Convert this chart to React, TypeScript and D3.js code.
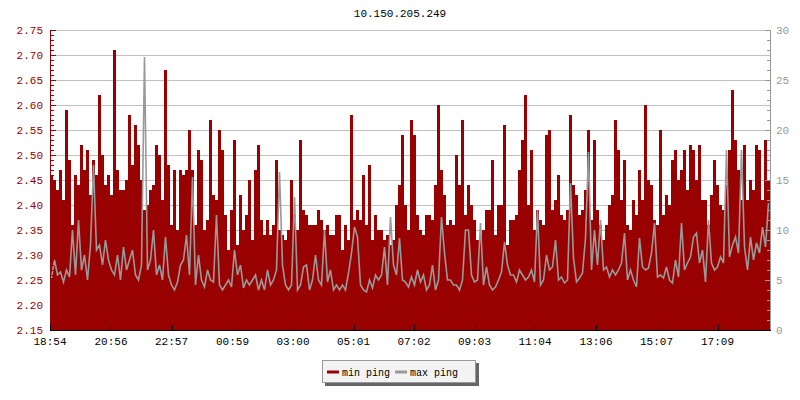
import * as d3 from "d3";

const W = 800;
const H = 400;
const M = { top: 30, right: 30, bottom: 70, left: 50 };

const TITLE = "10.150.205.249";
const START = "18:54";
const STEP_MIN = 6;
const X_LABELS = ["18:54", "20:56", "22:57", "00:59", "03:00", "05:01", "07:02", "09:03", "11:04", "13:06", "15:07", "17:09"];
const LEFT_DOMAIN: [number, number] = [2.15, 2.75];
const RIGHT_DOMAIN: [number, number] = [0, 30];
const SERIES = ["min ping", "max ping"];

// min ping, left axis, one value per 6 minutes
const minPing = [
  2.46, 2.45, 2.43, 2.47, 2.41, 2.59, 2.49, 2.36, 2.46, 2.44, 2.52, 2.47, 2.51, 2.42, 2.49, 2.46, 2.62, 2.5, 2.44, 2.46, 2.42, 2.71, 2.47, 2.43,
  2.43, 2.45, 2.58, 2.48, 2.56, 2.52, 2.45, 2.39, 2.4, 2.43, 2.44, 2.52, 2.5, 2.41, 2.67, 2.48, 2.36, 2.47, 2.35, 2.47, 2.46, 2.47, 2.55, 2.47,
  2.36, 2.51, 2.49, 2.35, 2.37, 2.57, 2.42, 2.41, 2.55, 2.51, 2.38, 2.31, 2.39, 2.53, 2.32, 2.42, 2.35, 2.38, 2.45, 2.33, 2.47, 2.52, 2.37, 2.34,
  2.37, 2.34, 2.36, 2.49, 2.35, 2.34, 2.33, 2.35, 2.45, 2.38, 2.35, 2.53, 2.39, 2.38, 2.36, 2.36, 2.36, 2.39, 2.37, 2.35, 2.36, 2.34, 2.34, 2.38,
  2.38, 2.31, 2.36, 2.33, 2.58, 2.37, 2.39, 2.37, 2.46, 2.36, 2.48, 2.33, 2.38, 2.35, 2.35, 2.33, 2.34, 2.32, 2.33, 2.4, 2.44, 2.54, 2.4, 2.35,
  2.57, 2.54, 2.38, 2.35, 2.34, 2.38, 2.38, 2.37, 2.44, 2.6, 2.47, 2.42, 2.36, 2.37, 2.36, 2.5, 2.44, 2.57, 2.38, 2.44, 2.4, 2.37, 2.33, 2.33,
  2.35, 2.39, 2.39, 2.49, 2.34, 2.4, 2.4, 2.56, 2.32, 2.37, 2.37, 2.38, 2.47, 2.53, 2.62, 2.4, 2.51, 2.35, 2.39, 2.37, 2.36, 2.54, 2.55, 2.39,
  2.41, 2.46, 2.38, 2.37, 2.39, 2.58, 2.44, 2.42, 2.38, 2.39, 2.43, 2.55, 2.37, 2.53, 2.39, 2.36, 2.33, 2.36, 2.4, 2.42, 2.57, 2.51, 2.41, 2.49,
  2.36, 2.35, 2.41, 2.38, 2.47, 2.41, 2.6, 2.45, 2.44, 2.37, 2.36, 2.55, 2.38, 2.42, 2.4, 2.49, 2.51, 2.45, 2.47, 2.51, 2.43, 2.52, 2.51, 2.45,
  2.52, 2.41, 2.41, 2.36, 2.42, 2.49, 2.44, 2.4, 2.39, 2.44, 2.51, 2.63, 2.53, 2.47, 2.41, 2.52, 2.41, 2.45, 2.43, 2.52, 2.51, 2.41, 2.53, 2.45,
];

// max ping, right axis
const maxPing = [
  5.2, 7, 5.5, 5.8, 4.8, 6, 5.3, 10, 5.5, 11, 6, 7.5, 5, 8.5, 16.5, 8, 8.5, 6.5, 9, 7, 6, 5.5, 7.5, 5,
  8.3, 6, 7, 8, 5.5, 5, 6.5, 27.3, 6, 7, 10, 5.5, 6.5, 5, 9.3, 5.5, 4.5, 4, 4.8, 6.5, 7, 9.5, 5.5, 15.3,
  4.5, 7.5, 5, 4.3, 6, 5, 4.8, 11.5, 4.5, 4, 4.5, 5, 4.3, 8, 5.5, 6.5, 4.2, 5, 4.5, 5, 5.5, 4, 5, 4,
  6, 4.5, 5, 6, 15.8, 6.5, 4.5, 4, 4.5, 13.3, 4, 4.5, 6.3, 6.5, 4, 5, 7.5, 5, 4.5, 10, 4.8, 6, 4, 4.5,
  4, 4.5, 4, 5.7, 7.7, 10.3, 9.3, 4.5, 4, 3.8, 5, 4.2, 5.5, 5, 5.5, 8.3, 4.5, 11.3, 6.5, 5.5, 9.2, 5, 4.8, 4.3,
  5.3, 4.5, 6, 4.8, 5.5, 4, 4.5, 6.5, 4, 5, 11.3, 7.7, 5, 5, 4.5, 4.5, 4, 5, 10, 10, 5.5, 4.8, 5, 10.7,
  4.5, 6.3, 4.5, 4, 4.3, 5, 5.8, 8.8, 6.5, 5.5, 5.5, 4.8, 6, 5.5, 5, 5.3, 6, 4.8, 12, 4.5, 5, 7.5, 6, 6.3,
  9, 5, 5.3, 4.7, 5, 14.7, 7.2, 4.8, 5.2, 5.7, 9.2, 17.8, 6, 10, 6.5, 11, 6, 6.3, 5.3, 6, 5.5, 6, 6.7, 9.7,
  5, 6, 5, 4.3, 9.2, 6.3, 6, 6.2, 7.7, 10.7, 5.3, 5.5, 5.2, 6.3, 5, 4.7, 7, 5.3, 10.7, 6, 6.7, 7.3, 9.3, 9.7,
  6.7, 8, 4.8, 11, 6.7, 6, 6.3, 7.3, 6.7, 18, 7.3, 8.5, 9.3, 7.7, 18, 8.3, 6, 9.3, 7, 8.7, 7.7, 10.3, 8.3, 12.7,
];

const RED = "#990000";
const GREY = "#999999";
const FONT = "'Liberation Mono', 'DejaVu Sans Mono', monospace";
const FS = 10;

function parseHM(s: string, base: Date): Date {
  const [h, m] = s.split(":").map(Number);
  const d = new Date(base);
  d.setHours(h, m, 0, 0);
  if (d < base) d.setDate(d.getDate() + 1);
  return d;
}

export default function App() {
  const t0 = parseHM(START, new Date(2024, 0, 1, 0, 0));
  const t1 = d3.timeMinute.offset(t0, minPing.length * STEP_MIN);
  const x = d3.scaleTime().domain([t0, t1]).range([M.left, W - M.right]);
  const yL = d3.scaleLinear().domain(LEFT_DOMAIN).range([H - M.bottom, M.top]);
  const yR = d3.scaleLinear().domain(RIGHT_DOMAIN).range([H - M.bottom, M.top]);

  const times = minPing.map((_, i) => d3.timeMinute.offset(t0, i * STEP_MIN));
  const bw = x(d3.timeMinute.offset(t0, STEP_MIN)) - x(t0);

  const greyPath =
    d3
      .line<number>()
      .x((_, i) => x(times[i]) + bw / 2)
      .y((v) => yR(v))(maxPing) ?? "";

  const leftMajor = d3.range(0, 13).map((i) => +(LEFT_DOMAIN[0] + i * 0.05).toFixed(2));
  const leftMinor = d3.range(0, 61).map((i) => +(LEFT_DOMAIN[0] + i * 0.01).toFixed(2));
  const rightMajor = yR.ticks(6);
  const rightMinor = d3.range(RIGHT_DOMAIN[0], RIGHT_DOMAIN[1] + 1);
  const fmt = d3.format(".2f");
  const xTicks = X_LABELS.map((l) => ({ l, d: parseHM(l, t0) }));

  const bottom = H - M.bottom;
  const right = W - M.right;
  const py = (v: number) => Math.round(v) + 0.5;

  return (
    <svg
      width={W}
      height={H}
      style={{ position: "absolute", left: 0, top: 0, background: "#fff" }}
      fontFamily={FONT}
    >
      <text x={W / 2} y={17} textAnchor="middle" fontSize={FS + 1} fill="#000">
        {TITLE}
      </text>

      {/* gridlines */}
      {leftMajor.slice(1).map((t) => (
        <line key={`g${t}`} x1={M.left} x2={right} y1={py(yL(t))} y2={py(yL(t))} stroke="#c0c0c0" />
      ))}

      {/* min ping bars */}
      <g fill={RED} shapeRendering="crispEdges">
        {minPing.map((v, i) => (
          <rect key={i} x={x(times[i])} width={bw} y={yL(v)} height={bottom - yL(v)} />
        ))}
      </g>

      {/* max ping line */}
      <path d={greyPath} fill="none" stroke={GREY} strokeWidth={1.6} strokeLinejoin="miter" />

      {/* left axis */}
      <line x1={M.left + 0.5} x2={M.left + 0.5} y1={M.top} y2={bottom} stroke={RED} />
      {leftMinor.map((t) => (
        <line key={`lm${t}`} x1={M.left} x2={M.left + 4} y1={py(yL(t))} y2={py(yL(t))} stroke={RED} />
      ))}
      {leftMajor.map((t) => (
        <g key={`lM${t}`}>
          <line x1={M.left} x2={M.left + 6} y1={py(yL(t))} y2={py(yL(t))} stroke={RED} />
          <text x={M.left - 7} y={yL(t) + 4} textAnchor="end" fontSize={FS + 1} fill={RED}>
            {fmt(t)}
          </text>
        </g>
      ))}

      {/* right axis */}
      <line x1={right + 0.5} x2={right + 0.5} y1={M.top} y2={bottom} stroke={GREY} />
      {rightMinor.map((t) => (
        <line key={`rm${t}`} x1={right - 3} x2={right} y1={py(yR(t))} y2={py(yR(t))} stroke={GREY} />
      ))}
      {rightMajor.map((t) => (
        <g key={`rM${t}`}>
          <line x1={right - 5} x2={right} y1={py(yR(t))} y2={py(yR(t))} stroke={GREY} />
          <text x={right + 6} y={yR(t) + 4} textAnchor="start" fontSize={FS + 1} fill={GREY}>
            {t}
          </text>
        </g>
      ))}

      {/* bottom axis */}
      <line x1={M.left} x2={right + 1} y1={bottom + 0.5} y2={bottom + 0.5} stroke="#000" />
      {xTicks.map(({ l, d }) => (
        <g key={l}>
          <line x1={py(x(d))} x2={py(x(d))} y1={bottom - 5} y2={bottom} stroke="#000" />
          <text x={x(d)} y={bottom + 15} textAnchor="middle" fontSize={FS + 1} fill="#000">
            {l}
          </text>
        </g>
      ))}

      {/* legend */}
      <g transform="translate(322,360)">
        <rect x={3} y={3} width={154} height={23} fill="#666" />
        <rect x={0.5} y={0.5} width={153} height={22} fill="#f3f3f3" stroke="#999" />
        {SERIES.map((s, i) => (
          <g key={s} transform={`translate(${5 + i * 68},0)`}>
            <line x1={0} x2={12} y1={12} y2={12} stroke={i === 0 ? RED : GREY} strokeWidth={3} />
            <text x={15} y={15.5} fontSize={FS} fill="#000">
              {s}
            </text>
          </g>
        ))}
      </g>
    </svg>
  );
}
